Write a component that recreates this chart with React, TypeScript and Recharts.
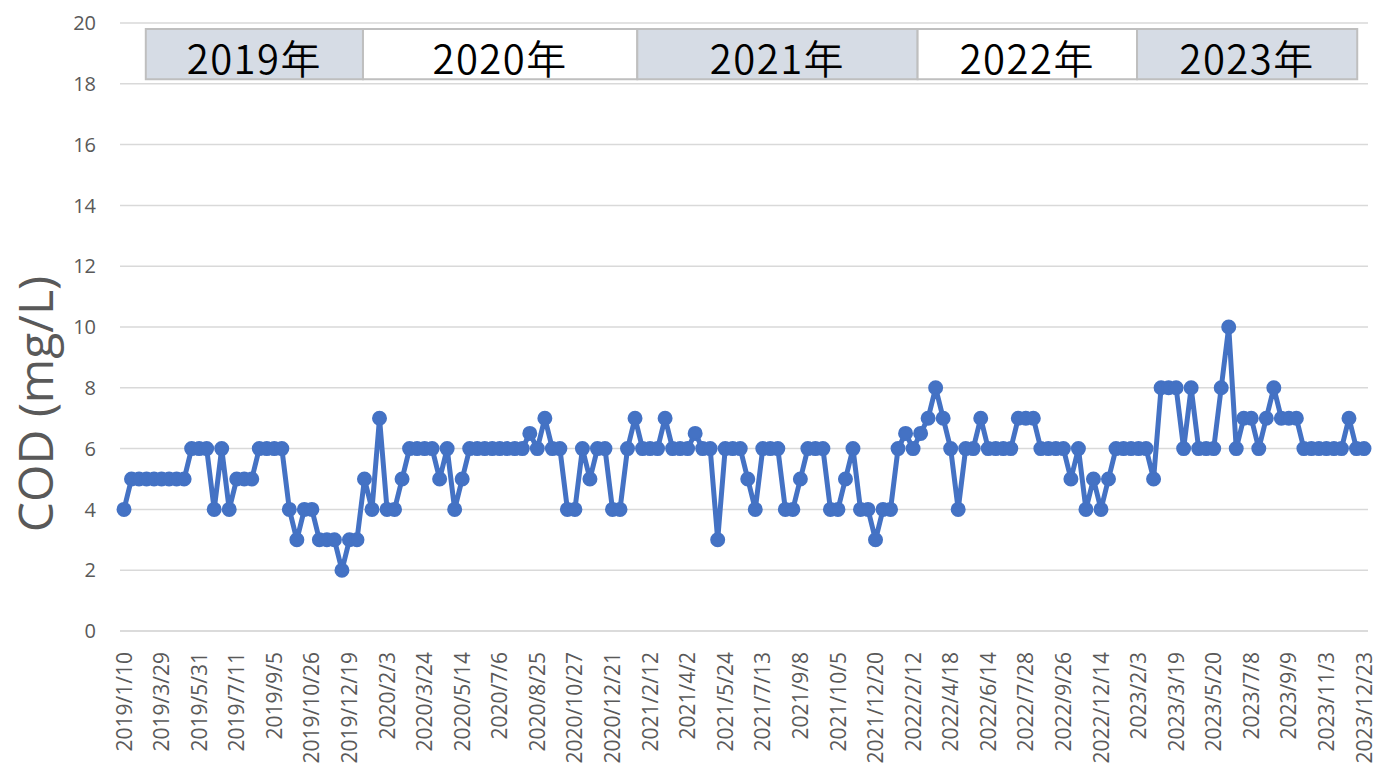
import { LineChart, Line, XAxis, YAxis, CartesianGrid, ReferenceArea } from 'recharts';

const TICK_LABELS = [
  '2019/1/10', '2019/3/29', '2019/5/31', '2019/7/11', '2019/9/5', '2019/10/26', '2019/12/19',
  '2020/2/3', '2020/3/24', '2020/5/14', '2020/7/6', '2020/8/25', '2020/10/27', '2020/12/21',
  '2021/2/12', '2021/4/2', '2021/5/24', '2021/7/13', '2021/9/8', '2021/10/5', '2021/12/20',
  '2022/2/12', '2022/4/18', '2022/6/14', '2022/7/28', '2022/9/26', '2022/12/14',
  '2023/2/3', '2023/3/19', '2023/5/20', '2023/7/8', '2023/9/9', '2023/11/3', '2023/12/23',
];

// one value per sampling date, a label every 5th sample
const COD_VALUES = [
  4, 5, 5, 5, 5, 5, 5, 5, 5, 6,
  6, 6, 4, 6, 4, 5, 5, 5, 6, 6,
  6, 6, 4, 3, 4, 4, 3, 3, 3, 2,
  3, 3, 5, 4, 7, 4, 4, 5, 6, 6,
  6, 6, 5, 6, 4, 5, 6, 6, 6, 6,
  6, 6, 6, 6, 6.5, 6, 7, 6, 6, 4,
  4, 6, 5, 6, 6, 4, 4, 6, 7, 6,
  6, 6, 7, 6, 6, 6, 6.5, 6, 6, 3,
  6, 6, 6, 5, 4, 6, 6, 6, 4, 4,
  5, 6, 6, 6, 4, 4, 5, 6, 4, 4,
  3, 4, 4, 6, 6.5, 6, 6.5, 7, 8, 7,
  6, 4, 6, 6, 7, 6, 6, 6, 6, 7,
  7, 7, 6, 6, 6, 6, 5, 6, 4, 5,
  4, 5, 6, 6, 6, 6, 6, 5, 8, 8,
  8, 6, 8, 6, 6, 6, 8, 10, 6, 7,
  7, 6, 7, 8, 7, 7, 7, 6, 6, 6,
  6, 6, 6, 7, 6, 6,
];

const YEAR_LABELS = ['2019年', '2020年', '2021年', '2022年', '2023年'];
const Y_TICKS = [0, 2, 4, 6, 8, 10, 12, 14, 16, 18, 20];

// layout of the year header boxes, in axis units
const BOX_EDGES = [2.9, 31.8, 68.3, 105.6, 134.8, 164.1];
const BOX_FILLS = ['#D6DCE5', '#FFFFFF', '#D6DCE5', '#FFFFFF', '#D6DCE5'];

const data = COD_VALUES.map((cod, idx) => ({ idx, cod }));
const xTicks = TICK_LABELS.map((_, i) => i * 5);

const GRAY = '#595959';

function DateTick({ x, y, payload }: any) {
  const label = TICK_LABELS[Math.round(payload.value / 5)] ?? '';
  return (
    <g transform={`translate(${x},${y + 19})`}>
      <text
        transform="rotate(-90)"
        textAnchor="end"
        dy="0.36em"
        fill={GRAY}
        fontSize={21}
        fontFamily="Open Sans"
      >
        {label}
      </text>
    </g>
  );
}

function AxisTitle({ viewBox }: any) {
  const cx = viewBox.x + 34;
  const cy = viewBox.y + viewBox.height / 2 + 77;
  return (
    <text
      x={cx}
      y={cy}
      transform={`rotate(-90, ${cx}, ${cy})`}
      textAnchor="middle"
      dominantBaseline="central"
      fill={GRAY}
      fontSize={48}
      fontFamily="Open Sans"
    >
      COD (mg/L)
    </text>
  );
}

function YearLabel({ viewBox, value }: any) {
  return (
    <text
      x={viewBox.x + viewBox.width / 2}
      y={viewBox.y + viewBox.height / 2 + 3}
      textAnchor="middle"
      dominantBaseline="central"
      fill="#000"
      fontSize={40}
      fontWeight={350}
      letterSpacing={1.5}
      fontFamily="Noto Sans CJK JP"
    >
      {value}
    </text>
  );
}

export default function App() {
  return (
    <div style={{ position: 'absolute', left: 0, top: 0, width: 1377, height: 772, background: '#fff' }}>
      <LineChart width={1377} height={772} data={data} margin={{ top: 23, right: 9, bottom: 0, left: 0 }}>
        <CartesianGrid vertical={false} stroke="#d9d9d9" strokeWidth={1.5} />
        <XAxis
          dataKey="idx"
          type="number"
          domain={[0, COD_VALUES.length - 1]}
          ticks={xTicks}
          interval={0}
          padding={{ left: 4, right: 4 }}
          height={141}
          tickSize={0}
          tickLine={false}
          axisLine={{ stroke: '#d9d9d9', strokeWidth: 1.5 }}
          tick={<DateTick />}
        />
        <YAxis
          width={120}
          domain={[0, 20]}
          ticks={Y_TICKS}
          interval={0}
          tickLine={false}
          axisLine={false}
          tickSize={0}
          tickMargin={24}
          tick={{ fill: GRAY, fontSize: 20, fontFamily: 'Open Sans' }}
          label={{ content: AxisTitle }}
        />
        {YEAR_LABELS.map((year, i) => (
          <ReferenceArea
            key={year}
            x1={BOX_EDGES[i]}
            x2={BOX_EDGES[i + 1]}
            y1={18.15}
            y2={19.8}
            fill={BOX_FILLS[i]}
            fillOpacity={1}
            stroke="#BFBFBF"
            strokeWidth={2}
            label={<YearLabel value={year} />}
          />
        ))}
        <Line
          type="linear"
          dataKey="cod"
          stroke="#4472C4"
          strokeWidth={5}
          dot={{ r: 6.5, fill: '#4472C4', stroke: '#4472C4', strokeWidth: 2 }}
          activeDot={false}
          isAnimationActive={false}
        />
      </LineChart>
    </div>
  );
}
